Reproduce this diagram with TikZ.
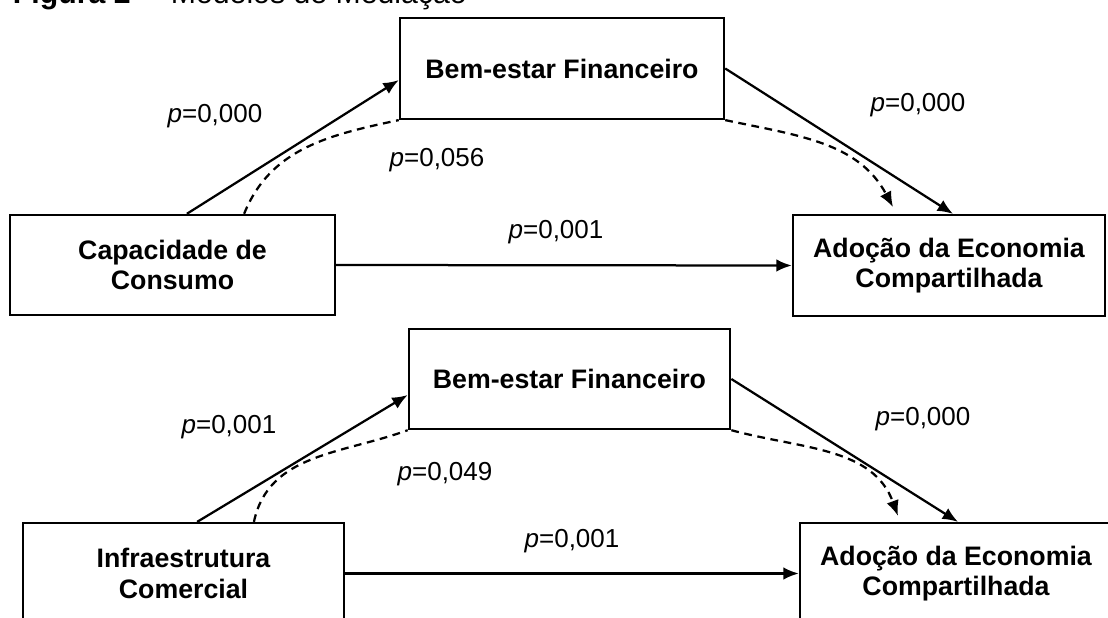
\documentclass[tikz,border=0pt]{standalone}
\usepackage{fontspec}
\setmainfont{Liberation Sans}
\usepackage{tikz}
\usetikzlibrary{calc,arrows.meta}

\tikzset{
  modelbox/.style={draw,line width=1.7pt,align=center,inner sep=2pt,
    font=\fontsize{19}{21.5}\selectfont\bfseries},
  pval/.style={anchor=base,inner sep=0pt,font=\fontsize{18.5}{21.5}\selectfont},
  arr/.style={line width=1.6pt,-{Latex[length=11pt,width=9pt]}},
  dashline/.style={line width=1.6pt,dash pattern=on 5.5pt off 4pt},
  dasharr/.style={arr,dash pattern=on 5.5pt off 4pt}
}

\begin{document}
\begin{tikzpicture}[x=0.025cm,y=-0.025cm]
  \useasboundingbox (0,0) rectangle (1108,617);
  \clip (0,0) rectangle (1108,617);
  \node[anchor=base east,inner sep=0pt,font=\fontsize{21.5}{24}\selectfont] (title) at (467,3.5)
    {\textbf{Figura 2}\enspace-- Modelos de Mediação};

  % primeiro modelo
  \node[modelbox,minimum width=8.1cm,minimum height=2.52cm] (bem1) at (562,68.5) {Bem-estar Financeiro};
  \node[modelbox,minimum width=8.125cm,minimum height=2.5cm] (cap) at (172.5,265) {Capacidade de\\Consumo};
  \node[modelbox,minimum width=7.8cm,minimum height=2.52cm] (ado1) at (949,265.5) {Adoção da Economia\\Compartilhada};
  \draw[arr] ([xshift=0.36cm]cap.north) -- ([yshift=-0.29cm]bem1.west);
  \draw[arr] (bem1.east) -- ([xshift=0.1cm]ado1.north);
  \draw[arr] (cap.east) -- (ado1.west);
  \draw[dashline] ([xshift=1.79cm]cap.north) to[out=68,in=192] (bem1.south west);
  \draw[dasharr] (bem1.south east) to[out=-12,in=118] ([xshift=-1.4cm,yshift=0.17cm]ado1.north);
  \node[pval] (p1a) at (215,122) {\textit{p}=0,000};
  \node[pval] (p1b) at (437,166) {\textit{p}=0,056};
  \node[pval] (p1c) at (918,112) {\textit{p}=0,000};
  \node[pval] (p1d) at (556,238) {\textit{p}=0,001};

  % segundo modelo
  \node[modelbox,minimum width=8.03cm,minimum height=2.5cm] (bem2) at (569.5,379) {Bem-estar Financeiro};
  \node[modelbox,minimum width=8.03cm,minimum height=2.52cm] (inf) at (183.5,573.5) {Infraestrutura\\Comercial};
  \node[modelbox,minimum width=7.8cm,minimum height=2.52cm] (ado2) at (956,573.5) {Adoção da Economia\\Compartilhada};
  \draw[arr] ([xshift=0.34cm]inf.north) -- ([yshift=-0.4cm]bem2.west);
  \draw[arr] (bem2.east) -- ([xshift=0.05cm]ado2.north);
  \draw[arr] (inf.east) -- (ado2.west);
  \draw[dashline] ([xshift=1.76cm]inf.north) to[out=78,in=200] (bem2.south west);
  \draw[dasharr] (bem2.south east) to[out=-15,in=110] ([xshift=-1.45cm,yshift=0.15cm]ado2.north);
  \node[pval] (p2a) at (229,433) {\textit{p}=0,001};
  \node[pval] (p2b) at (445,480) {\textit{p}=0,049};
  \node[pval] (p2c) at (923,425) {\textit{p}=0,000};
  \node[pval] (p2d) at (572,547) {\textit{p}=0,001};
\end{tikzpicture}
\end{document}
